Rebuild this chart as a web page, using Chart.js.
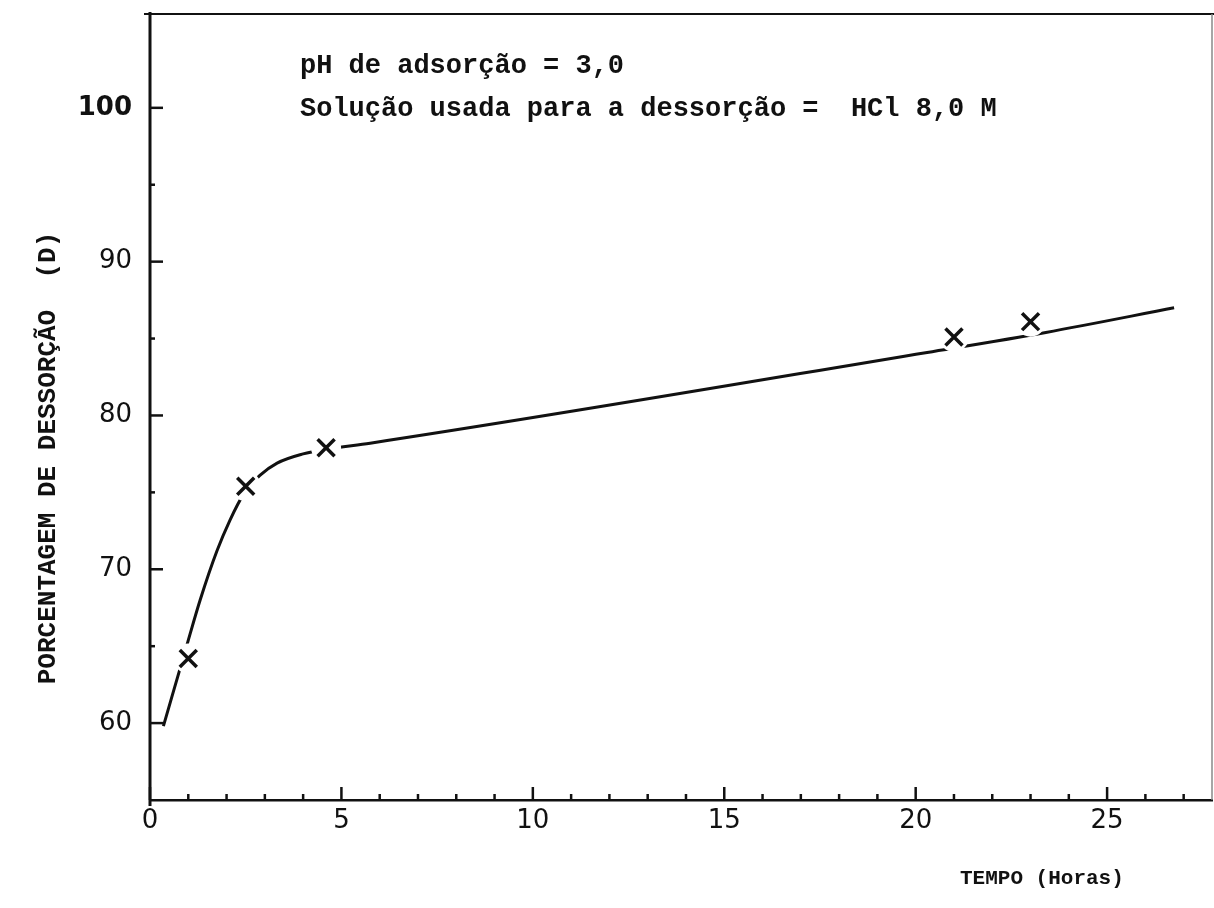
<!DOCTYPE html>
<html>
<head>
<meta charset="utf-8">
<script src="https://cdn.jsdelivr.net/npm/chart.js@4.4.1/dist/chart.umd.min.js"></script>
<style>
    html, body { margin: 0; padding: 0; background: #fff; overflow: hidden; }
    #wrap { width: 1214px; height: 908px; position: relative; }
</style>
</head>
<body>
<div id="wrap"><canvas id="myChart"></canvas></div>
<script>
// pontos medidos (marcados com x)
const tempoMedido = [1.0, 2.5, 4.6, 21.0, 23.0];
const dessorcaoMedida = [64.2, 75.4, 77.9, 85.1, 86.1];

// curva tracada a mao
const curvaTempo = [0.35, 0.99, 1.31, 1.75, 2.09, 2.45, 2.87, 3.32, 4.0, 4.6, 5.75, 20.3, 23.4, 26.75];
const curvaDessorcao = [59.8, 65.3, 68.0, 71.2, 73.2, 74.9, 76.1, 76.9, 77.5, 77.8, 78.2, 84.1, 85.4, 87.0];

const xMarcas = [0, 1, 2, 3, 4, 5, 6, 7, 8, 9, 10, 11, 12, 13, 14, 15, 16, 17, 18, 19, 20, 21, 22, 23, 24, 25, 26, 27];
const yMarcas = [60, 65, 70, 75, 80, 85, 90, 95, 100];

const tituloX = 'TEMPO (Horas)';
const tituloY = 'PORCENTAGEM DE DESSORÇÃO  (D)';
const notas = ['pH de adsorção = 3,0', 'Solução usada para a dessorção =  HCl 8,0 M'];

const tinta = '#111';
const maquina = 'Liberation Mono, Courier New, monospace';
const numeros = 'DejaVu Sans, sans-serif';

const pontos = tempoMedido.map((t, i) => ({ x: t, y: dessorcaoMedida[i] }));
const curva = curvaTempo.map((t, i) => ({ x: t, y: curvaDessorcao[i] }));

// moldura, marcas dos eixos e textos
const papel = {
    id: 'papel',
    afterDraw(chart) {
        const c = chart.ctx;
        const a = chart.chartArea;
        const sx = chart.scales.x;
        const sy = chart.scales.y;
        c.save();
        c.strokeStyle = tinta;
        c.lineCap = 'butt';

        c.lineWidth = 2;
        c.beginPath();
        c.moveTo(a.left - 6, a.top);
        c.lineTo(chart.width, a.top);
        c.stroke();

        c.strokeStyle = '#888';
        c.lineWidth = 1.5;
        c.beginPath();
        c.moveTo(a.right, a.top);
        c.lineTo(a.right, a.bottom);
        c.stroke();

        c.strokeStyle = tinta;
        c.lineWidth = 3;
        c.beginPath();
        c.moveTo(a.left, a.top - 2);
        c.lineTo(a.left, a.bottom + 6);
        c.stroke();

        c.lineWidth = 2.5;
        xMarcas.forEach(v => {
            const px = sx.getPixelForValue(v);
            const len = v % 5 === 0 ? 13 : 6;
            c.beginPath();
            c.moveTo(px, a.bottom);
            c.lineTo(px, a.bottom - len);
            c.stroke();
        });
        yMarcas.forEach(v => {
            const py = sy.getPixelForValue(v);
            const len = v % 10 === 0 ? 13 : 5;
            c.beginPath();
            c.moveTo(a.left, py);
            c.lineTo(a.left + len, py);
            c.stroke();
        });

        c.fillStyle = tinta;
        c.textBaseline = 'middle';
        c.textAlign = 'left';
        c.font = 'bold 27px ' + maquina;
        c.fillText(notas[0], 300, 66);
        c.fillText(notas[1], 300, 109);

        c.font = 'bold 21px ' + maquina;
        c.fillText(tituloX, 960, 879);

        c.translate(48, 458);
        c.rotate(-Math.PI / 2);
        c.textAlign = 'center';
        c.font = 'bold 26px ' + maquina;
        c.fillText(tituloY, 0, 0);
        c.restore();
    }
};

const ctx = document.getElementById('myChart');
const myChart = new Chart(ctx, {
    type: 'scatter',
    data: {
        datasets: [
            {
                label: 'Medidas',
                data: pontos,
                pointStyle: 'crossRot',
                pointRadius: 12,
                pointBorderWidth: 3.5,
                borderColor: tinta,
                backgroundColor: tinta,
                order: 0
            },
            {
                label: 'fundo',
                data: pontos,
                pointStyle: 'circle',
                pointRadius: 15,
                pointBorderWidth: 0,
                borderColor: '#fff',
                backgroundColor: '#fff',
                order: 1
            },
            {
                label: 'Curva',
                data: curva,
                showLine: true,
                cubicInterpolationMode: 'monotone',
                borderColor: tinta,
                borderWidth: 3,
                pointRadius: 0,
                order: 2
            }
        ]
    },
    options: {
        responsive: true,
        maintainAspectRatio: false,
        animation: false,
        layout: {
            autoPadding: false,
            padding: { top: 14, right: 2, left: 0, bottom: 0 }
        },
        scales: {
            x: {
                type: 'linear',
                min: 0,
                max: 27.74,
                afterFit: (s) => {
                    s.height = 108;
                    s.paddingLeft = 0;
                    s.paddingRight = 0;
                },
                grid: { display: false, drawTicks: false },
                border: { display: true, color: tinta, width: 2.5 },
                ticks: {
                    stepSize: 5,
                    includeBounds: false,
                    maxRotation: 0,
                    autoSkip: false,
                    padding: 6,
                    color: tinta,
                    font: { family: numeros, size: 26 }
                }
            },
            y: {
                type: 'linear',
                min: 55,
                max: 106.1,
                afterFit: (s) => {
                    s.width = 150;
                    s.paddingTop = 0;
                    s.paddingBottom = 0;
                },
                grid: { display: false, drawTicks: false },
                border: { display: false },
                ticks: {
                    stepSize: 10,
                    includeBounds: false,
                    padding: 18,
                    color: tinta,
                    font: (c) => ({
                        family: numeros,
                        size: 26,
                        weight: c.tick && c.tick.value === 100 ? 'bold' : 'normal'
                    })
                }
            }
        },
        plugins: {
            legend: { display: false },
            tooltip: { enabled: false },
            title: { display: false }
        }
    },
    plugins: [papel]
});
</script>
</body>
</html>
